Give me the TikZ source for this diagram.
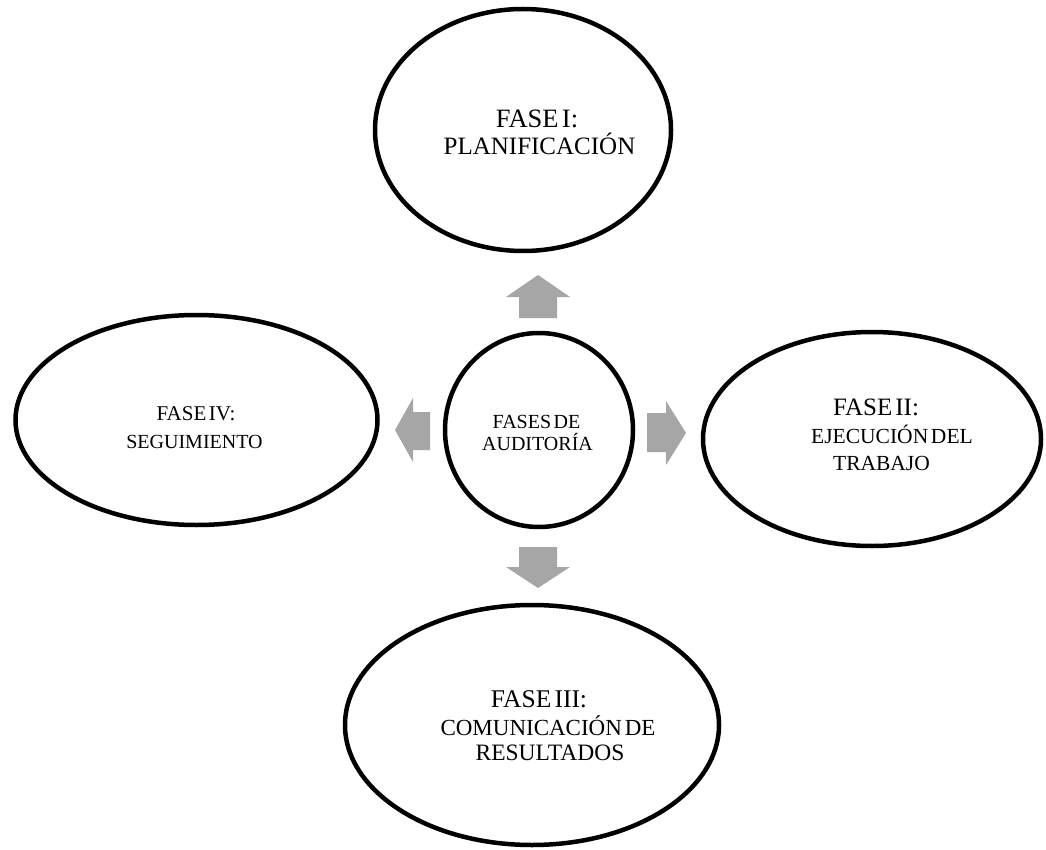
\documentclass[tikz,border=0pt]{standalone}
\usepackage{fontspec}
\setmainfont[WordSpace=0.5]{Liberation Serif}
\usetikzlibrary{shapes.geometric}
\definecolor{arrowgray}{HTML}{A6A6A6}
\begin{document}
\begin{tikzpicture}[x=1pt,y=-1pt,
  phase/.style={ellipse, draw=black, line width=4.5pt, inner sep=0pt, fill=white},
  lbl/.style={anchor=base, inner sep=0pt, text=black},
  blockarrow/.style={fill=arrowgray, draw=none}]
  % canvas
  \useasboundingbox (0,0) rectangle (1046,850);
  \fill[white] (0,0) rectangle (1046,850);

  % phase ellipses and the central circle
  \node[phase, minimum width=296pt, minimum height=242pt] (plan) at (523,130) {};
  \node[phase, minimum width=362pt, minimum height=210pt] (seg)  at (196.5,420) {};
  \node[phase, minimum width=338pt, minimum height=214pt] (ejec) at (872,439) {};
  \node[phase, minimum width=374pt, minimum height=240pt] (com)  at (532,725) {};
  \node[phase, minimum width=188pt, minimum height=194pt] (core) at (539,430) {};

  % labels
  \node[lbl, font=\fontsize{26.5}{30}\selectfont] (plan1) at (537,128) {FASE I:};
  \node[lbl, font=\fontsize{25}{28}\selectfont] (plan2) at (539.5,155) {PLANIFICACIÓN};

  \node[lbl, font=\fontsize{20}{22}\selectfont] (core1) at (536.5,428) {FASES DE};
  \node[lbl, font=\fontsize{20}{22}\selectfont] (core2) at (537.5,450) {AUDITORÍA};

  \node[lbl, font=\fontsize{21}{24}\selectfont] (seg1) at (196,420) {FASE IV:};
  \node[lbl, font=\fontsize{20}{24}\selectfont] (seg2) at (194.5,448) {SEGUIMIENTO};

  \node[lbl, font=\fontsize{25}{28}\selectfont] (ejec1) at (876,415) {FASE II:};
  \node[lbl, font=\fontsize{21.5}{24}\selectfont] (ejec2) at (892,443) {EJECUCIÓN DEL};
  \node[lbl, font=\fontsize{21.5}{24}\selectfont] (ejec3) at (881.5,470) {TRABAJO};

  \node[lbl, font=\fontsize{25.5}{28}\selectfont] (com1) at (539,707) {FASE III:};
  \node[lbl, font=\fontsize{23}{26}\selectfont] (com2) at (548,735) {COMUNICACIÓN DE};
  \node[lbl, font=\fontsize{23.5}{26}\selectfont] (com3) at (550,760) {RESULTADOS};

  % block arrows pointing out of the central circle
  % up
  \fill[blockarrow] (538,275) -- (570,297) -- (557,297) -- (557,318)
    -- (519,318) -- (519,297) -- (506,297) -- cycle;
  % down
  \fill[blockarrow] (538,588) -- (570,567) -- (557,567) -- (557,547)
    -- (519,547) -- (519,567) -- (506,567) -- cycle;
  % right
  \fill[blockarrow] (686,433) -- (666,465) -- (666,452) -- (647,452)
    -- (647,413) -- (666,413) -- (666,401) -- cycle;
  % left
  \fill[blockarrow] (395,430) -- (413,462) -- (413,450) -- (430,450)
    -- (430,412) -- (413,412) -- (413,398) -- cycle;
\end{tikzpicture}
\end{document}
